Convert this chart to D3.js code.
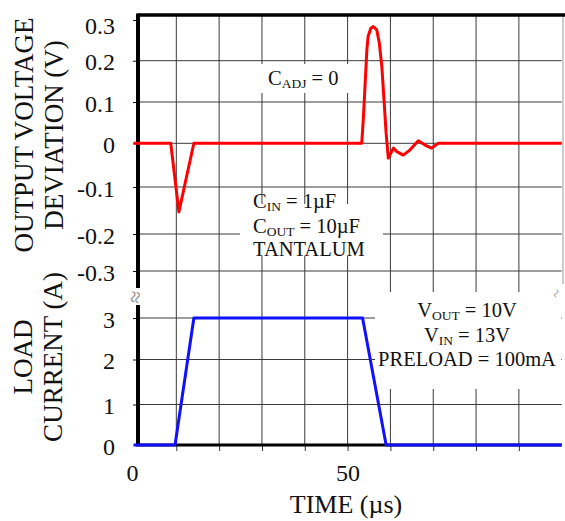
<!DOCTYPE html>
<html>
<head>
<meta charset="utf-8">
<script src="https://cdn.jsdelivr.net/npm/d3@7"></script>
<style>
  html, body { margin: 0; padding: 0; background: #fff; }
  svg { display: block; }
</style>
</head>
<body>
<svg id="chart" width="565" height="521"></svg>
<script>
// ---------- data ----------
const redTime = [0, 8.7, 10.6, 14.1, 53.3, 53.7, 54.1, 54.5, 54.8, 55.4, 56.0, 56.8, 57.4, 58.0, 58.5, 59.0, 59.5, 60.7, 61.5, 63.0, 64.6, 66.5, 68.1, 69.6, 71.2, 100];
const redVolt = [0, 0, -0.153, 0, 0, 0.064, 0.145, 0.227, 0.260, 0.279, 0.284, 0.276, 0.244, 0.185, 0.105, 0.024, -0.034, -0.011, -0.019, -0.027, -0.015, 0.006, -0.004, -0.011, 0, 0];
const blueTime = [0, 9.7, 14.1, 53.5, 59.0, 100];
const blueCurrent = [0, 0, 3, 3, 0, 0];

const xTicks = [0, 10, 20, 30, 40, 50, 60, 70, 80, 90];
const xTickLabels = ["0", "", "", "", "", "50", "", "", "", ""];
const upperTicks = [0.3, 0.2, 0.1, 0, -0.1, -0.2, -0.3];
const upperTickLabels = ["0.3", "0.2", "0.1", "0", "-0.1", "-0.2", "-0.3"];
const lowerTicks = [3, 2, 1, 0];
const lowerTickLabels = ["3", "2", "1", "0"];

// ---------- pick an installed serif font ----------
function fontExists(name) {
  const c = document.createElement("canvas").getContext("2d");
  const s = "TANTALUM OUTPUT 0123456789 Wmi";
  let diff = false;
  ["monospace", "sans-serif"].forEach(base => {
    c.font = "30px " + base;
    const w0 = c.measureText(s).width;
    c.font = `30px "${name}", ${base}`;
    const w1 = c.measureText(s).width;
    if (Math.abs(w0 - w1) > 0.5) diff = true;
  });
  return diff;
}
const serifCandidates = ["Liberation Serif", "Times New Roman", "Tinos", "DejaVu Serif", "Noto Serif", "FreeSerif"];
const serifFont = (serifCandidates.find(fontExists) || "serif");
const FONT = `"${serifFont}", serif`;

// ---------- scales (the scanned axis is slightly uneven, so a piecewise scale) ----------
const svg = d3.select("#chart").style("font-family", FONT);
const x = d3.scaleLinear().domain([0, 100]).range([133.5, 561.7]);
const yUp = d3.scaleLinear()
  .domain([-0.3, -0.2, -0.1, 0, 0.1, 0.2, 0.3])
  .range([271, 234, 187, 143.3, 102, 60.7, 20]);
const yLow = d3.scaleLinear().domain([0, 1, 2, 3]).range([445, 404.5, 359.5, 318]);

const axisX = 138;           // left axis position
const topY = 15;             // top border
const rightX = 563;
const gridStroke = "#3a3a3a";

// ---------- gridlines ----------
const grid = svg.append("g");
grid.selectAll("line.v").data(xTicks.filter(d => d > 0)).join("line")
  .attr("x1", d => x(d)).attr("x2", d => x(d))
  .attr("y1", topY).attr("y2", yLow(0))
  .attr("stroke", gridStroke).attr("stroke-width", 1);
grid.selectAll("line.hu").data(upperTicks.filter(d => d < 0.3)).join("line")
  .attr("x1", axisX).attr("x2", x(100))
  .attr("y1", d => yUp(d)).attr("y2", d => yUp(d))
  .attr("stroke", gridStroke).attr("stroke-width", 1);
grid.selectAll("line.hl").data(lowerTicks.filter(d => d > 0)).join("line")
  .attr("x1", axisX).attr("x2", x(100))
  .attr("y1", d => yLow(d)).attr("y2", d => yLow(d))
  .attr("stroke", gridStroke).attr("stroke-width", 1);

// right border (thin grey, with break)
svg.append("line").attr("x1", rightX).attr("x2", rightX)
  .attr("y1", topY).attr("y2", 284).attr("stroke", "#999").attr("stroke-width", 1);

// ---------- annotation boxes (white, hide grid) ----------
const boxes = [
  [256, 64, 94, 29],
  [240, 204, 143, 52],
  [375, 292, 186, 97]
];
svg.selectAll("rect.box").data(boxes).join("rect")
  .attr("x", d => d[0]).attr("y", d => d[1]).attr("width", d => d[2]).attr("height", d => d[3])
  .attr("fill", "#fff");

// ---------- annotations ----------
function subText(g, x0, y0, parts, anchor) {
  const t = g.append("text").attr("x", x0).attr("y", y0)
    .attr("text-anchor", anchor).style("font-size", "20.5px")
    .style("font-family", FONT).attr("fill", "#111");
  parts.forEach(p => {
    const s = t.append("tspan").text(p.t);
    if (p.sub) s.style("font-size", "13.5px").attr("dy", 3);
    else if (p.after) s.attr("dy", -3);
  });
}
const ann = svg.append("g");
subText(ann, 268, 85, [{t: "C"}, {t: "ADJ", sub: true}, {t: " = 0", after: true}], "start");
subText(ann, 253, 208, [{t: "C"}, {t: "IN", sub: true}, {t: " = 1\u00B5F", after: true}], "start");
subText(ann, 253, 233, [{t: "C"}, {t: "OUT", sub: true}, {t: " = 10\u00B5F", after: true}], "start");
subText(ann, 253, 256, [{t: "TANTALUM"}], "start");
subText(ann, 467, 317, [{t: "V"}, {t: "OUT", sub: true}, {t: " = 10V", after: true}], "middle");
subText(ann, 467, 342, [{t: "V"}, {t: "IN", sub: true}, {t: " = 13V", after: true}], "middle");
subText(ann, 467, 366, [{t: "PRELOAD = 100mA"}], "middle");

// ---------- axes ----------
const upAxis = d3.axisLeft(yUp).tickValues(upperTicks)
  .tickFormat((d, i) => upperTickLabels[i]).tickSize(5).tickPadding(18);
const gUp = svg.append("g").attr("transform", `translate(${axisX},0)`).call(upAxis);
const lowAxis = d3.axisLeft(yLow).tickValues(lowerTicks)
  .tickFormat((d, i) => lowerTickLabels[i]).tickSize(5).tickPadding(18);
const gLow = svg.append("g").attr("transform", `translate(${axisX},0)`).call(lowAxis);
[gUp, gLow].forEach(g => {
  g.attr("font-family", null).attr("font-size", null);
  g.select(".domain").remove();
  g.selectAll(".tick line").attr("stroke", "#111");
  g.selectAll(".tick text").style("font-size", "24px").style("font-family", FONT)
    .attr("fill", "#111").attr("dy", "0.38em");
});
gUp.selectAll(".tick").filter(d => d === 0.3).select("text").attr("dy", "0.55em");
gLow.selectAll(".tick").filter(d => d === 0).select("line").remove();

const bAxis = d3.axisBottom(x).tickValues(xTicks)
  .tickFormat((d, i) => xTickLabels[i]).tickSize(6).tickPadding(13);
const gB = svg.append("g").attr("transform", `translate(0,${yLow(0)})`).call(bAxis);
gB.attr("font-family", null).attr("font-size", null);
gB.select(".domain").remove();
gB.selectAll(".tick line").attr("stroke", "#333");
gB.selectAll(".tick").filter(d => d === 0).select("line").remove();
gB.selectAll(".tick text").style("font-size", "24px").style("font-family", FONT).attr("fill", "#111");
gB.selectAll(".tick").filter(d => d === 0).select("text").attr("x", -1.5);

// thick frame lines
const frame = svg.append("g").attr("stroke", "#000").attr("fill", "none");
frame.append("line").attr("x1", axisX).attr("x2", 565).attr("y1", topY).attr("y2", topY).attr("stroke-width", 3.5);
frame.append("line").attr("x1", axisX).attr("x2", axisX).attr("y1", topY - 1.5).attr("y2", 288).attr("stroke-width", 4);
frame.append("line").attr("x1", axisX).attr("x2", axisX).attr("y1", 305).attr("y2", yLow(0) + 1).attr("stroke-width", 4);
frame.append("line").attr("x1", axisX - 2).attr("x2", x(100)).attr("y1", yLow(0)).attr("y2", yLow(0)).attr("stroke-width", 3);

// break marks
svg.append("text").attr("x", 0).attr("y", 0)
  .attr("transform", "translate(135,297) rotate(-80)")
  .attr("text-anchor", "middle").attr("dy", "0.35em")
  .style("font-size", "22px").style("font-family", FONT).attr("fill", "#888").text("\u2248");
svg.append("text").attr("x", 0).attr("y", 0)
  .attr("transform", "translate(556,293) rotate(-65)")
  .attr("text-anchor", "middle").attr("dy", "0.35em")
  .style("font-size", "15px").style("font-family", FONT).attr("fill", "#888").text("~");

// ---------- data lines ----------
const redData = redTime.map((t, i) => [t, redVolt[i]]);
const blueData = blueTime.map((t, i) => [t, blueCurrent[i]]);
svg.append("path").datum(blueData)
  .attr("d", d3.line().x(d => x(d[0])).y(d => yLow(d[1])))
  .attr("fill", "none").attr("stroke", "#1010ff").attr("stroke-width", 3).attr("stroke-linejoin", "round");
svg.append("path").datum(redData)
  .attr("d", d3.line().x(d => x(d[0])).y(d => yUp(d[1])))
  .attr("fill", "none").attr("stroke", "#ff0000").attr("stroke-width", 3).attr("stroke-linejoin", "round");

// ---------- axis titles ----------
function vTitle(cx, cy, lines) {
  const g = svg.append("g").attr("transform", `translate(${cx},${cy}) rotate(-90)`);
  lines.forEach(l => {
    g.append("text").attr("x", 0).attr("y", l.y).attr("text-anchor", "middle")
      .style("font-size", "27px").style("font-family", FONT).attr("fill", "#111").text(l.t);
  });
}
vTitle(0, 135, [{t: "OUTPUT VOLTAGE", y: 33}, {t: "DEVIATION (V)", y: 63}]);
vTitle(0, 357, [{t: "LOAD", y: 32}, {t: "CURRENT (A)", y: 62}]);

svg.append("text").attr("x", 346).attr("y", 513).attr("text-anchor", "middle")
  .style("font-size", "26px").style("font-family", FONT).attr("fill", "#111").text("TIME (\u00B5s)");
</script>
</body>
</html>
